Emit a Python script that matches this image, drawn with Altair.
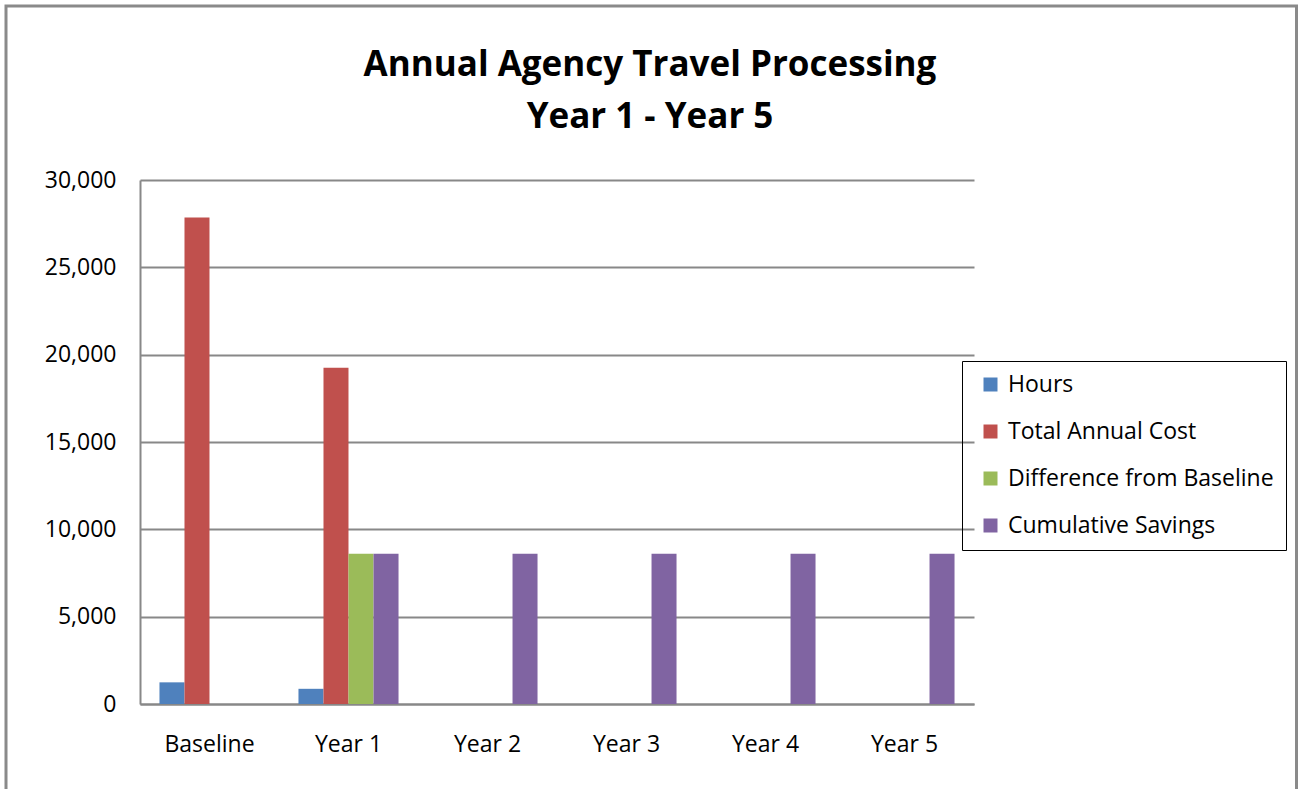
import altair as alt
import pandas as pd

categories = ["Baseline", "Year 1", "Year 2", "Year 3", "Year 4", "Year 5"]
series_names = ["Hours", "Total Annual Cost", "Difference from Baseline", "Cumulative Savings"]
hours = [1240, 870, 0, 0, 0, 0]
total_annual_cost = [27850, 19250, 0, 0, 0, 0]
difference_from_baseline = [0, 8600, 0, 0, 0, 0]
cumulative_savings = [0, 8600, 8600, 8600, 8600, 8600]
y_ticks = [0, 5000, 10000, 15000, 20000, 25000, 30000]
colors = ["#4F81BD", "#C0504D", "#9BBB59", "#8064A2"]
title_lines = ["Annual Agency Travel Processing", "Year 1 - Year 5"]

rows = []
for name, vals in zip(series_names, [hours, total_annual_cost, difference_from_baseline, cumulative_savings]):
    for c, v in zip(categories, vals):
        rows.append({"Category": c, "Series": name, "Value": v})
df = pd.DataFrame(rows)
one = pd.DataFrame({"k": [0]})

FONT = "Open Sans"
GRID = "#888888"

bars = alt.Chart(df).mark_bar(size=25).encode(
    x=alt.X("Category:N", sort=categories, title=None,
            scale=alt.Scale(paddingInner=0.28, paddingOuter=0.14),
            axis=alt.Axis(labelAngle=0, labelFontSize=23, labelFont=FONT, labelColor="#000000",
                          ticks=False, domainColor=GRID, domainWidth=2, labelPadding=29,
                          grid=False)),
    xOffset=alt.XOffset("Series:N", sort=series_names),
    y=alt.Y("Value:Q", title=None,
            scale=alt.Scale(domain=[0, 30000], nice=False),
            axis=alt.Axis(values=y_ticks, format=",.0f", labelFontSize=23, labelFont=FONT,
                          labelColor="#000000", ticks=False, domainColor=GRID, domainWidth=2,
                          gridColor=GRID, gridWidth=2, labelPadding=24)),
    color=alt.Color("Series:N", sort=series_names,
                    scale=alt.Scale(domain=series_names, range=colors),
                    legend=alt.Legend(title=None, orient="none", legendX=822, legendY=181,
                                      symbolType="square", symbolSize=196, symbolStrokeWidth=0,
                                      labelFontSize=23, labelFont=FONT, labelColor="#000000",
                                      rowPadding=23, padding=12, symbolOffset=5, labelOffset=6,
                                      strokeColor="#000000", labelLimit=400)),
)

frame = alt.Chart(one).mark_rect(fillOpacity=0, stroke="#8a8a8a", strokeWidth=3).encode(
    x=alt.value(-134), x2=alt.value(1156.5), y=alt.value(-174), y2=alt.value(640)
)

title1 = alt.Chart(one).mark_text(
    text=title_lines[0], font=FONT, fontSize=35, fontWeight="bold", color="#000000",
    align="center", baseline="alphabetic"
).encode(x=alt.value(510), y=alt.value(-104))

title2 = alt.Chart(one).mark_text(
    text=title_lines[1], font=FONT, fontSize=35, fontWeight="bold", color="#000000",
    align="center", baseline="alphabetic"
).encode(x=alt.value(510), y=alt.value(-52))

chart = alt.layer(frame, bars, title1, title2).properties(
    width=834, height=524,
    autosize=alt.AutoSizeParams(type="none"),
    padding={"left": 140, "top": 180, "right": 325, "bottom": 85},
).configure_view(stroke=None)

chart.save("out.html", embed_options={"renderer": "svg", "actions": False})
